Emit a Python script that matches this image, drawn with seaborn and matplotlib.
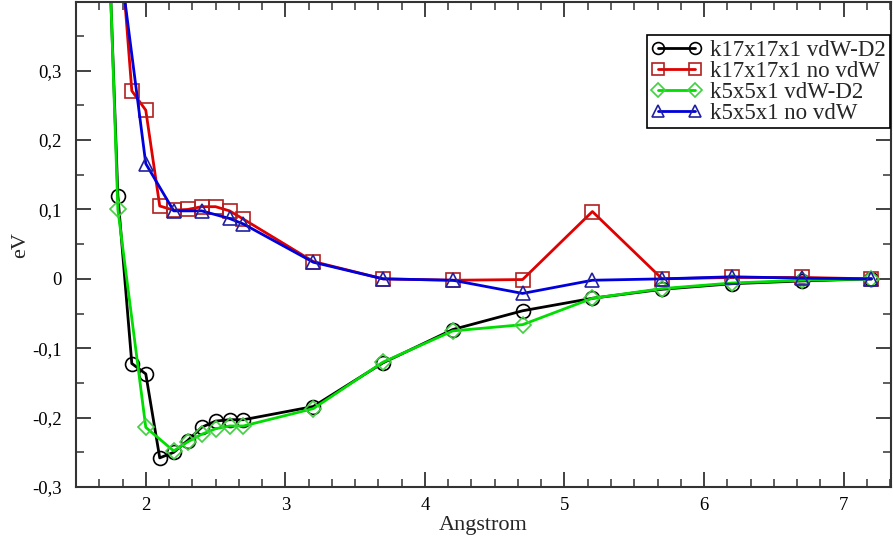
import matplotlib
matplotlib.use("Agg")
import matplotlib.pyplot as plt
import seaborn as sns
import pandas as pd
from matplotlib.ticker import MultipleLocator, FuncFormatter

# Data
x_k17_d2 = [1.7, 1.8, 1.9, 2.0, 2.1, 2.2, 2.3, 2.4, 2.5, 2.6, 2.7, 3.2, 3.7, 4.2, 4.7, 5.2, 5.7, 6.2, 6.7, 7.2]
y_k17_d2 = [0.68, 0.12, -0.122, -0.137, -0.258, -0.25, -0.233, -0.214, -0.205, -0.203, -0.203, -0.184, -0.121, -0.073, -0.046, -0.028, -0.015, -0.007, -0.003, 0.0]

x_k17_no = [1.8, 1.9, 2.0, 2.1, 2.2, 2.3, 2.4, 2.5, 2.6, 2.7, 3.2, 3.7, 4.2, 4.7, 5.2, 5.7, 6.2, 6.7, 7.2]
y_k17_no = [0.53, 0.271, 0.243, 0.105, 0.099, 0.100, 0.104, 0.104, 0.098, 0.086, 0.025, 0.0, -0.002, -0.001, 0.097, 0.0, 0.002, 0.002, 0.0]

x_k5_d2 = [1.7, 1.8, 2.0, 2.2, 2.3, 2.4, 2.5, 2.6, 2.7, 3.2, 3.7, 4.2, 4.7, 5.2, 5.7, 6.2, 6.7, 7.2]
y_k5_d2 = [0.70, 0.10, -0.214, -0.248, -0.235, -0.224, -0.216, -0.212, -0.212, -0.187, -0.12, -0.075, -0.066, -0.028, -0.014, -0.006, -0.002, 0.0]

x_k5_no = [1.8, 2.0, 2.2, 2.4, 2.6, 2.7, 3.2, 3.7, 4.2, 4.7, 5.2, 5.7, 6.2, 6.7, 7.2]
y_k5_no = [0.48, 0.166, 0.098, 0.098, 0.087, 0.079, 0.024, 0.0, -0.002, -0.021, -0.002, 0.0, 0.003, 0.001, 0.0]

labels = ["k17x17x1 vdW-D2", "k17x17x1 no vdW", "k5x5x1 vdW-D2", "k5x5x1 no vdW"]
colors = ["#000000", "#e00000", "#00dd00", "#0000dd"]
edge_colors = ["#000000", "#b02020", "#40d040", "#2020a0"]
markers = ["o", "s", "D", "^"]
msizes = [10, 10, 8, 10]

series = [(x_k17_d2, y_k17_d2), (x_k17_no, y_k17_no), (x_k5_d2, y_k5_d2), (x_k5_no, y_k5_no)]

sns.set_style("ticks")
plt.rcParams['font.family'] = ['Liberation Serif', 'DejaVu Serif']

fig = plt.figure(figsize=(8.93, 5.40), dpi=100)
ax = fig.add_axes([0.0851, 0.0981, 0.9127, 0.8982])

for (xs, ys), lab, c, ec, m, ms in zip(series, labels, colors, edge_colors, markers, msizes):
    df = pd.DataFrame({"x": xs, "y": ys})
    sns.lineplot(data=df, x="x", y="y", ax=ax, color=c, label=lab, sort=False,
                 estimator=None, marker=m, markersize=ms, markerfacecolor="none",
                 markeredgecolor=ec, markeredgewidth=1.2, linewidth=2)

ax.set_xlim(1.5, 7.34)
ax.set_ylim(-0.3, 0.399)
ax.xaxis.set_major_locator(MultipleLocator(1))
ax.xaxis.set_minor_locator(MultipleLocator(1/6))
ax.yaxis.set_major_locator(MultipleLocator(0.1))
ax.yaxis.set_minor_locator(MultipleLocator(0.05))

def fmt(v, pos):
    if abs(v) < 1e-9:
        return "0"
    return ("%.1f" % v).replace(".", ",")
ax.yaxis.set_major_formatter(FuncFormatter(fmt))
ax.xaxis.set_major_formatter(FuncFormatter(lambda v, p: "%d" % round(v)))

ax.tick_params(which="both", direction="in", top=True, right=True, colors="#333333",
               labelcolor="black", labelsize=13.5)
ax.tick_params(which="major", length=11, width=1.3)
ax.tick_params(which="minor", length=6, width=1.1)
ax.tick_params(axis="y", which="major", pad=10)
ax.tick_params(axis="x", which="major", pad=7.5)
for s in ax.spines.values():
    s.set_color("#333333")
    s.set_linewidth(1.5)

ax.set_xlabel("Angstrom", fontsize=16, labelpad=1)
ax.set_ylabel("eV", fontsize=16, labelpad=2)

leg = ax.legend(loc="upper right", bbox_to_anchor=(0.999, 0.932), numpoints=2,
                fontsize=16.5, frameon=True, fancybox=False, framealpha=1,
                edgecolor="black", handlelength=2.2, handletextpad=0.35,
                borderpad=0.2, labelspacing=0.0, borderaxespad=0, markerscale=0.85)
leg.get_frame().set_linewidth(1.2)

fig.savefig("out.png", dpi=100)
